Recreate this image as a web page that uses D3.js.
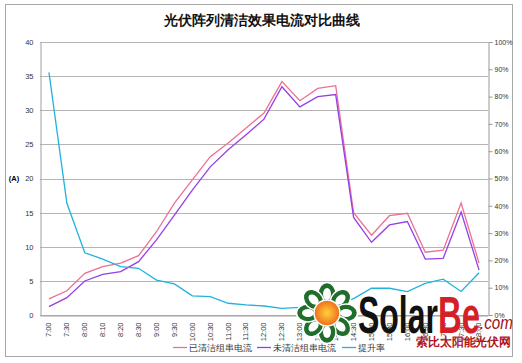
<!DOCTYPE html>
<html>
<head>
<meta charset="utf-8">
<script src="https://cdn.jsdelivr.net/npm/d3@7"></script>
<style>
  body { margin: 0; background: #fff; }
  svg { display: block; }
  text { font-family: "Liberation Sans", Arial, sans-serif; }
</style>
</head>
<body>
<div id="chart"></div>
<script>
// data
const categories = ["7:00","7:30","8:00","8:10","8:20","8:30","9:00","9:30","10:00","10:30","11:00","11:30",
  "12:00","12:30","13:00","13:30","14:00","14:30","15:00","15:30","16:00","16:30","17:00","17:30","18:00"];
const cleaned   = [2.35,3.55,6.1,7.1,7.6,8.7,12.2,16.4,19.8,23.2,25.2,27.4,29.6,34.2,31.4,33.2,33.6,15.0,11.7,14.55,14.9,9.2,9.5,16.4,7.6];
const uncleaned = [1.22,2.54,4.98,5.96,6.35,7.82,11.0,14.65,18.3,21.7,24.2,26.4,28.7,33.45,30.5,32.0,32.3,14.3,10.65,13.2,13.7,8.2,8.3,15.1,6.6];
const rate      = [88.9,40.9,22.8,20.5,17.7,17.1,12.8,11.4,7.0,6.7,4.3,3.7,3.3,2.4,2.8,2.6,3.8,6.0,9.8,9.8,8.6,11.6,13.1,8.6,15.5];
const leftTicks  = [0,5,10,15,20,25,30,35,40];
const rightTicks = [0,10,20,30,40,50,60,70,80,90,100];
const seriesNames = ["已清洁组串电流","未清洁组串电流","提升率"];
const colors = ["#ee6f92","#9440e6","#22b2dc"];

const width = 522, height = 363;
let margin = {top: 42, right: 34, bottom: 48, left: 40};
let innerWidth = width - margin.left - margin.right;
let innerHeight = height - margin.top - margin.bottom;

let svg = d3.select("#chart").append("svg")
  .attr("width", width)
  .attr("height", height);

// outer frame
svg.append("rect")
  .attr("x", 5.5).attr("y", 4.5)
  .attr("width", 507).attr("height", 352)
  .attr("fill", "#fff")
  .attr("stroke", "#a8a8a8");

svg.append("text")
  .attr("x", 262).attr("y", 25)
  .attr("text-anchor", "middle")
  .attr("font-family", "Noto Sans CJK SC")
  .attr("font-weight", "bold")
  .attr("font-size", 13.5)
  .attr("fill", "#111")
  .text("光伏阵列清洁效果电流对比曲线");

let g = svg.append("g")
  .attr("transform", "translate(" + margin.left + "," + margin.top + ")");

// scales
let x = d3.scaleBand().domain(categories).range([0, innerWidth]);
let y = d3.scaleLinear().domain([0, 40]).range([innerHeight, 0]);
let y2 = d3.scaleLinear().domain([0, 100]).range([innerHeight, 0]);
let cx = d => x(d) + x.bandwidth() / 2;

// gridlines
g.append("g")
  .selectAll("line")
  .data(leftTicks)
  .join("line")
  .attr("x1", 0).attr("x2", innerWidth)
  .attr("y1", d => Math.round(y(d)) + 0.5)
  .attr("y2", d => Math.round(y(d)) + 0.5)
  .attr("stroke", "#b4b4b4");

// left axis
let leftAxis = g.append("g")
  .attr("transform", "translate(0.5,0)")
  .call(d3.axisLeft(y).tickValues(leftTicks).tickSize(0).tickPadding(7))
  .attr("font-family", "Liberation Sans").attr("font-size", 7.5);
leftAxis.select(".domain").attr("stroke", "#a0a0a0");
leftAxis.selectAll("text").attr("fill", "#333");

// right axis
let rightAxis = g.append("g")
  .attr("transform", "translate(" + (innerWidth + 0.5) + ",0)")
  .call(d3.axisRight(y2).tickValues(rightTicks).tickSize(4).tickPadding(2).tickFormat(d => d + "%"))
  .attr("font-family", "Liberation Sans").attr("font-size", 7);
rightAxis.selectAll(".domain, line").attr("stroke", "#999");
rightAxis.selectAll("text").attr("fill", "#333");

// bottom axis
let bottomAxis = g.append("g")
  .attr("transform", "translate(0," + (innerHeight + 0.5) + ")")
  .call(d3.axisBottom(x).tickSize(0).tickPadding(0))
  .attr("font-family", "Liberation Sans").attr("font-size", 7.5);
bottomAxis.select(".domain").attr("stroke", "#a0a0a0");
bottomAxis.selectAll("text")
  .attr("fill", "#333")
  .attr("text-anchor", "end")
  .attr("y", 0)
  .attr("dy", "0.32em")
  .attr("transform", "translate(0,7) rotate(-90)");

svg.append("text")
  .attr("x", 14).attr("y", 181)
  .attr("text-anchor", "middle")
  .attr("font-size", 7.5)
  .attr("font-weight", "bold")
  .text("(A)");

// lines
let line = d3.line().x((d, i) => cx(categories[i])).y(d => y(d));
let line2 = d3.line().x((d, i) => cx(categories[i])).y(d => y2(d));

g.append("path").datum(cleaned)
  .attr("fill", "none").attr("stroke", colors[0]).attr("stroke-width", 1.3)
  .attr("d", line);
g.append("path").datum(uncleaned)
  .attr("fill", "none").attr("stroke", colors[1]).attr("stroke-width", 1.3)
  .attr("d", line);
g.append("path").datum(rate)
  .attr("fill", "none").attr("stroke", colors[2]).attr("stroke-width", 1.3)
  .attr("d", line2);

// legend
let legendX = [173, 257, 342];
let legend = svg.append("g");
seriesNames.forEach((name, i) => {
  legend.append("line")
    .attr("x1", legendX[i]).attr("x2", legendX[i] + 14)
    .attr("y1", 347.5).attr("y2", 347.5)
    .attr("stroke", colors[i]).attr("stroke-width", 1.3);
  legend.append("text")
    .attr("x", legendX[i] + 16).attr("y", 350.5)
    .attr("font-family", "Noto Sans CJK SC")
    .attr("font-size", 8.5)
    .attr("fill", "#333")
    .text(name);
});

// watermark logo
let logo = svg.append("g");
let fc = [327, 313];
d3.range(8).forEach(i => {
  let a = i * 45;
  logo.append("ellipse")
    .attr("cx", 0).attr("cy", -19)
    .attr("rx", 9).attr("ry", 11.5)
    .attr("fill", "#1f6e2c").attr("stroke", "#fff").attr("stroke-width", 1.5)
    .attr("transform", "translate(" + fc + ") rotate(" + a + ")");
  logo.append("ellipse")
    .attr("cx", 0).attr("cy", -19)
    .attr("rx", 4).attr("ry", 6)
    .attr("fill", "#fff")
    .attr("transform", "translate(" + fc + ") rotate(" + a + ")");
});
let grad = svg.append("defs").append("radialGradient").attr("id", "sun");
grad.append("stop").attr("offset", "0%").attr("stop-color", "#ffd23a");
grad.append("stop").attr("offset", "100%").attr("stop-color", "#ee6a1c");
logo.append("circle").attr("cx", fc[0]).attr("cy", fc[1]).attr("r", 13)
  .attr("fill", "url(#sun)").attr("stroke", "#fff").attr("stroke-width", 1.5);

logo.append("text")
  .attr("x", 358).attr("y", 333)
  .attr("font-size", 52).attr("font-weight", "bold")
  .attr("textLength", 80).attr("lengthAdjust", "spacingAndGlyphs")
  .attr("fill", "#111")
  .text("Solar");
logo.append("text")
  .attr("x", 438).attr("y", 333)
  .attr("font-size", 52).attr("font-weight", "bold")
  .attr("textLength", 42).attr("lengthAdjust", "spacingAndGlyphs")
  .attr("fill", "#d42027")
  .text("Be");
logo.append("text")
  .attr("x", 480).attr("y", 329)
  .attr("font-size", 19).attr("font-style", "italic")
  .attr("textLength", 33).attr("lengthAdjust", "spacingAndGlyphs")
  .attr("fill", "#9e1018")
  .text(".com");
logo.append("text")
  .attr("x", 416).attr("y", 346)
  .attr("font-family", "Noto Sans CJK SC")
  .attr("font-size", 12).attr("font-weight", "bold")
  .attr("textLength", 95).attr("lengthAdjust", "spacingAndGlyphs")
  .attr("fill", "#b0141c")
  .text("索比太阳能光伏网");
</script>
</body>
</html>
